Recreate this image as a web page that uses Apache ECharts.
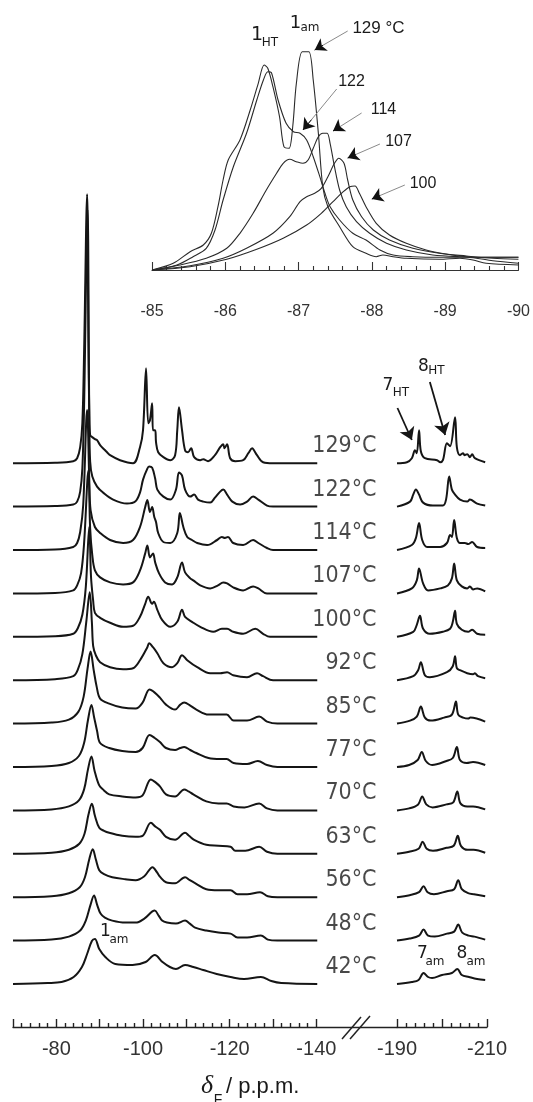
<!DOCTYPE html>
<html>
<head>
<meta charset="utf-8">
<script src="https://cdn.jsdelivr.net/npm/echarts@6/dist/echarts.min.js"></script>
<style>
  html, body { margin: 0; padding: 0; background: #fff; }
  #chart { width: 533px; height: 1102px; }
</style>
</head>
<body>
<div id="chart"></div>
<script>
// temperatures, top row first
const temps = ['129', '122', '114', '107', '100', '92', '85', '77', '70', '63', '56', '48', '42']

// left block of each spectrum, [ppm, intensity above its own baseline]
const left129 = [[-70,0],[-79.7,0.5],[-83.9,2],[-84.8,5],[-85.5,16],[-86,40],[-86.4,110],[-87.1,269],[-87.4,120],[-87.6,50],[-87.8,28],[-88.3,26],[-88.9,24],[-89.4,23],[-90.1,18],[-91,14],[-91.7,11],[-92.4,8],[-94.7,3],[-97.7,0],[-99.3,16],[-100,33],[-100.7,95],[-101.2,40],[-101.6,43],[-102.1,60],[-102.3,33],[-102.8,33],[-103,21],[-103.5,11],[-104.7,6],[-106.3,3],[-107.4,8],[-107.9,33],[-108.3,56],[-109,33],[-109.7,13],[-110.4,11],[-111.1,15],[-111.8,6],[-113.2,3],[-113.9,4],[-115,2],[-116.6,8],[-117.8,16],[-118.5,19],[-118.8,15],[-119.4,19],[-120.1,5],[-121.3,2],[-123.1,3],[-124.3,10],[-125.2,15],[-125.6,13],[-126.3,8],[-127.7,1],[-130,0],[-140.2,0]]
const left122 = [[-70,0],[-79.7,0.5],[-83.9,2],[-84.8,5],[-85.5,15],[-86,38],[-86.4,100],[-87.2,297],[-87.6,90],[-87.8,45],[-88.3,30],[-89.4,20],[-90.8,14],[-93.1,7],[-96.3,3],[-98.2,5],[-99.3,14],[-100,27],[-101,38],[-101.4,40],[-102.1,39],[-102.8,28],[-103.3,17],[-104.7,10],[-106.3,7],[-107.6,17],[-108.3,34],[-109,31],[-109.7,17],[-110.9,10],[-111.8,12],[-112.7,7],[-113.9,5],[-115.5,4],[-116.6,9],[-117.8,15],[-118.5,17],[-119.4,12],[-120.6,5],[-122.4,2],[-124,5],[-125.4,10],[-126.6,7],[-128.6,1],[-130,0],[-140.2,0]]
const left114 = [[-70,0],[-79.7,0.5],[-83.9,3],[-84.8,7],[-85.5,18],[-86.2,45],[-87.1,140],[-87.6,70],[-87.9,40],[-88.9,23],[-90.1,17],[-92.4,10],[-95.4,7],[-97.7,10],[-99.3,23],[-100.5,43],[-101,50],[-101.6,38],[-102.1,43],[-102.6,33],[-103,28],[-103.5,17],[-104.7,8],[-106.3,7],[-107.9,17],[-108.5,37],[-109.3,23],[-110.2,13],[-111.3,10],[-112.5,7],[-114.8,5],[-117.1,10],[-118.2,13],[-118.9,12],[-119.6,13],[-120.8,7],[-123.1,5],[-125.4,10],[-126.6,7],[-128.6,2],[-130,0],[-140.2,0]]
const left107 = [[-70,0],[-79.7,0.5],[-83.9,3],[-84.8,8],[-85.7,20],[-86.4,50],[-87.4,123],[-87.8,65],[-88.3,38],[-88.9,23],[-90.1,16],[-92.4,11],[-95.4,9],[-97.7,11],[-99.3,23],[-100.5,40],[-101,48],[-101.6,36],[-102.3,40],[-102.8,31],[-103.7,20],[-105.1,11],[-106.7,9],[-107.9,16],[-109,31],[-109.7,21],[-110.9,15],[-111.6,13],[-113.2,8],[-115.5,5],[-117.3,8],[-118.5,11],[-119.4,10],[-120.8,6],[-123.1,3],[-125.4,7],[-126.6,5],[-128.6,0],[-140.2,0]]
const left100 = [[-70,0],[-79.7,0.5],[-83.9,3],[-85,9],[-86,22],[-86.8,50],[-87.6,110],[-88,60],[-88.5,36],[-88.9,24],[-90.1,19],[-92.4,14],[-95.4,10],[-97.7,11],[-99.3,20],[-100.5,33],[-101.2,40],[-102.1,33],[-102.5,35],[-103.3,27],[-104.4,17],[-106.3,10],[-107.9,15],[-109,27],[-109.7,20],[-111.3,15],[-113.2,10],[-116.2,5],[-118.2,8],[-119.4,8],[-120.8,5],[-123.1,3],[-125.9,8],[-127.7,3],[-129.3,0],[-140.2,0]]
const left92 = [[-70,0],[-79.7,1],[-83.9,4],[-85,11],[-86,26],[-86.9,58],[-87.7,88],[-88.2,58],[-88.5,34],[-89.1,25],[-90.1,18],[-92.4,13],[-95.4,11],[-97.7,12],[-99.3,20],[-101,33],[-101.4,37],[-102.3,33],[-103.3,27],[-104.7,17],[-106.7,13],[-107.9,17],[-109,25],[-110.2,20],[-112.5,13],[-115.5,7],[-117.8,7],[-119.4,8],[-120.8,5],[-124,3],[-126.3,7],[-127.7,4],[-130,0],[-140.2,0]]
const left85 = [[-70,0],[-78.9,1],[-82.9,4],[-85.1,12],[-86.3,27],[-87.2,55],[-87.9,72],[-88.6,54],[-89.3,37],[-90.1,25],[-92.2,20],[-95.2,16],[-98.3,15],[-99.9,21],[-101.5,34],[-102.7,31],[-103.9,26],[-105.3,19],[-107.4,14],[-108.6,19],[-109.5,21],[-110.9,18],[-112.3,14],[-115.1,9],[-117.9,9],[-119.3,9],[-120.9,3],[-124,3],[-126.8,7],[-128.6,2],[-131,0],[-140.2,0]]
const left77 = [[-70,0],[-78.9,1],[-82.9,4],[-85.2,11],[-86.4,24],[-87.3,47],[-88.1,62],[-88.7,50],[-89.4,36],[-90.1,24],[-92.2,19],[-95.2,16],[-98.3,15],[-99.9,19],[-101.5,32],[-102.7,29],[-103.9,25],[-105.3,19],[-107.4,17],[-108.6,19],[-109.5,20],[-110.9,17],[-112.3,14],[-115.1,9],[-117.9,8],[-119.3,8],[-120.9,4],[-124,3],[-126.5,6],[-128.6,2],[-131,0],[-140.2,0]]
const left70 = [[-70,0],[-78.9,1],[-82.9,4],[-85.2,10],[-86.4,21],[-87.3,41],[-88.1,54],[-88.8,40],[-89.9,25],[-91,20],[-92.2,16],[-95.2,14],[-98.3,13],[-99.9,15],[-101.8,31],[-102.9,28],[-103.9,24],[-105.3,16],[-107.4,14],[-109.5,21],[-110.5,19],[-111.6,16],[-114.6,9],[-117.4,7],[-119.3,7],[-120.9,4],[-123.4,3],[-126.8,7],[-128.6,2],[-131,0],[-140.2,0]]
const left63 = [[-70,0],[-78.9,1],[-82.9,4],[-85.3,10],[-86.5,20],[-87.4,39],[-88.2,50],[-88.9,38],[-89.9,26],[-91,23],[-92.2,21],[-95.2,18],[-98.3,17],[-99.9,18],[-101.8,31],[-102.9,27],[-103.9,24],[-105.3,17],[-107.4,14],[-109.7,21],[-110.6,18],[-111.8,14],[-114.6,9],[-117.4,8],[-120.2,7],[-121.3,3],[-123.6,3],[-126.8,7],[-128.6,2],[-131,0],[-140.2,0]]
const left56 = [[-70,0],[-78.9,1],[-82.9,4],[-85.4,10],[-86.6,20],[-87.6,38],[-88.4,48],[-89.1,38],[-89.9,27],[-91,23],[-92.9,20],[-95.9,18],[-98.3,17],[-100.3,21],[-102.2,30],[-103.2,25],[-104,20],[-105.3,15],[-107.4,14],[-109.7,20],[-110.8,17],[-112,14],[-114.6,8],[-117.4,7],[-120.2,7],[-121.8,3],[-124,3],[-127,5],[-128.8,1],[-131,0],[-140.2,0]]
const left48 = [[-70,0],[-78.9,1],[-82.9,4],[-85.5,10],[-86.8,20],[-87.9,36],[-88.7,45],[-89.4,36],[-90.2,27],[-91.2,23],[-92.9,20],[-95.9,18],[-98.3,18],[-100.3,22],[-102.7,30],[-103.6,25],[-104.4,20],[-105.5,18],[-107.6,17],[-109.7,20],[-110.8,17],[-112,13],[-114.6,10],[-117.4,8],[-120.2,7],[-121.8,3],[-124,3],[-127.2,5],[-128.8,1],[-131,0],[-140.2,0]]
const left42 = [[-70,0],[-78,1],[-81.2,2],[-84,7],[-85.9,17],[-87.1,30],[-88.2,43],[-88.9,45],[-89.9,35],[-91.3,27],[-93.6,20],[-97.6,19],[-100.6,22],[-102.7,29],[-104.5,22],[-106.2,17],[-107.6,15],[-109.7,19],[-111.6,17],[-113.9,14],[-117,10],[-120.2,7],[-123.3,5],[-127.2,7],[-129.6,3],[-131.9,1],[-140.2,0]]

// right block (after the axis break)
const right129 = [[-190,0],[-192.2,1],[-193.3,5],[-194,13],[-194.4,10],[-194.9,33],[-195.3,12],[-196.2,5],[-198.9,3],[-199.6,1],[-200.2,3],[-201.1,20],[-201.8,17],[-202.9,46],[-203.3,16],[-204,8],[-204.7,10],[-205,8],[-205.6,9],[-206.2,6],[-206.7,9],[-207.3,5],[-209.6,1]]
const right122 = [[-190,0],[-192.9,5],[-193.6,12],[-194.2,17],[-194.9,12],[-195.8,4],[-198,1],[-200.2,1],[-200.9,7],[-201.6,30],[-202.2,17],[-202.9,12],[-204,7],[-205.6,5],[-206.2,7],[-207.8,3],[-209.6,1]]
const right114 = [[-190,0],[-193.3,5],[-194.2,12],[-194.9,27],[-195.6,10],[-196.7,3],[-199.6,3],[-201.1,7],[-201.8,15],[-202.2,13],[-202.7,30],[-203.3,12],[-204,7],[-205.1,7],[-205.8,6],[-206.7,8],[-207.8,3],[-209.6,2]]
const right107 = [[-190,0],[-193.3,5],[-194.4,13],[-194.9,25],[-195.8,10],[-196.9,3],[-199.6,5],[-201.3,8],[-202.2,15],[-202.7,30],[-203.3,13],[-204.4,7],[-205.6,5],[-206.2,7],[-206.9,4],[-207.8,5],[-209.6,2]]
const right100 = [[-190,0],[-193.6,5],[-194.4,12],[-195.1,21],[-195.8,8],[-197.3,3],[-200.2,5],[-201.8,8],[-202.4,15],[-202.9,26],[-203.3,13],[-204.4,7],[-205.8,5],[-206.7,7],[-207.8,3],[-209.6,2]]
const right92 = [[-190,0],[-193.6,4],[-194.7,10],[-195.3,18],[-196.2,5],[-197.3,3],[-201.1,8],[-202.4,14],[-202.9,24],[-203.3,12],[-204,10],[-205.6,7],[-206.9,6],[-207.3,7],[-208,4],[-209.6,2]]
const right85 = [[-190,0],[-192.9,3],[-194.4,7],[-195.3,17],[-196.2,6],[-197.5,3],[-200.5,6],[-202.2,9],[-203.1,22],[-203.6,9],[-204.7,6],[-205.8,5],[-206.3,6],[-209.6,2]]
const right77 = [[-190,0],[-192.7,2],[-194.6,7],[-195.5,15],[-196.4,6],[-197.8,2],[-201,6],[-202.4,9],[-203.3,20],[-204,7],[-205.5,4],[-206.9,5],[-209.6,2]]
const right70 = [[-190,0],[-192.7,2],[-194.7,6],[-195.6,14],[-196.5,6],[-197.9,3],[-201,6],[-202.5,8],[-203.4,19],[-204.1,7],[-205.6,4],[-206.9,4],[-209.6,1]]
const right63 = [[-190,0],[-192.7,2],[-194.8,5],[-195.7,12],[-196.6,5],[-198,3],[-201,6],[-202.6,8],[-203.5,18],[-204.2,8],[-205.7,4],[-207,4],[-209.6,1]]
const right56 = [[-190,0],[-192.8,2],[-194.9,5],[-195.9,11],[-196.8,5],[-198.2,3],[-201.1,6],[-202.7,8],[-203.6,17],[-204.4,8],[-205.8,4],[-207.1,3],[-209.6,1]]
const right48 = [[-190,0],[-192.8,2],[-194.9,5],[-195.9,11],[-196.9,5],[-198.4,4],[-201.1,7],[-202.7,9],[-203.6,16],[-204.5,8],[-205.9,5],[-207.2,4],[-209.6,1]]
const right42 = [[-190,0],[-193.3,2],[-194.8,4],[-195.9,11],[-196.9,7],[-197.8,6],[-200,9],[-202.2,11],[-203.4,15],[-204.4,9],[-206,7],[-207.8,5],[-209.6,4]]

// inset, expanded view of peak 1
const inset129 = [[-85,0],[-85.29,6.7],[-85.52,18.3],[-85.7,25],[-85.81,36.7],[-85.9,63.3],[-85.97,90],[-86.04,110],[-86.2,130],[-86.34,160],[-86.45,186.7],[-86.53,205],[-86.58,201.7],[-86.65,183.3],[-86.74,153.3],[-86.8,123.3],[-86.87,121.7],[-86.92,143.3],[-86.97,186.7],[-87.05,218.3],[-87.14,218.3],[-87.2,190],[-87.27,136.7],[-87.33,83.3],[-87.4,63.3],[-87.56,43.3],[-87.74,23.3],[-87.92,16.7],[-88.06,13.3],[-88.15,15],[-88.29,13.3],[-88.47,11.7],[-88.92,10.7],[-89.2,11.7],[-89.38,10],[-89.56,6.7],[-90,5]]
const inset122 = [[-85,0],[-85.34,5],[-85.56,13.3],[-85.74,21.7],[-85.86,40],[-85.97,70],[-86.11,103.3],[-86.29,136.7],[-86.43,170],[-86.52,190],[-86.58,198.3],[-86.63,197.3],[-86.72,170],[-86.83,146.7],[-86.93,138.3],[-87.02,136.7],[-87.11,130],[-87.2,113.3],[-87.29,93.3],[-87.36,76.7],[-87.43,63.3],[-87.56,50],[-87.74,36.7],[-87.92,30],[-88.11,20],[-88.29,15],[-88.56,13.3],[-88.92,12.7],[-89.29,12.7],[-89.65,9.3],[-90,6.7]]
const inset114 = [[-85,0],[-85.38,5],[-85.74,11.7],[-86.02,21.7],[-86.2,36.7],[-86.38,56.7],[-86.56,80],[-86.7,96.7],[-86.79,106.7],[-86.88,110.7],[-86.97,108.3],[-87.06,106.7],[-87.13,110],[-87.2,121.7],[-87.27,133.3],[-87.33,136.7],[-87.39,136.7],[-87.43,126.7],[-87.49,103.3],[-87.56,80],[-87.65,63.3],[-87.79,48.3],[-87.97,36.7],[-88.2,26.7],[-88.47,20],[-88.83,15],[-89.2,13.3],[-89.6,12.7],[-90,12.7]]
const inset107 = [[-85,0],[-85.52,4.3],[-85.97,11.7],[-86.29,21.7],[-86.65,36.7],[-86.88,53.3],[-87.02,68.3],[-87.11,73.3],[-87.22,76.7],[-87.31,81.7],[-87.4,93.3],[-87.49,106.7],[-87.55,111.7],[-87.62,106.7],[-87.67,90],[-87.74,70],[-87.86,53.3],[-88.02,40],[-88.24,30],[-88.56,21.7],[-88.92,16.7],[-89.29,14],[-89.65,11.7],[-90,10.7]]
const inset100 = [[-85,0],[-85.52,3.3],[-86.02,10.7],[-86.43,20.7],[-86.79,31.7],[-87.11,45],[-87.31,56.7],[-87.47,68.3],[-87.61,78.3],[-87.7,83.3],[-87.77,84],[-87.83,76.7],[-87.92,63.3],[-88.06,46.7],[-88.24,35],[-88.47,26.7],[-88.74,20],[-89.01,16],[-89.29,13.3],[-89.56,12.7],[-90,12.7]]

// tick labels
const mainTicks = [-70, -80, -90, -100, -110, -120, -130, -140]
const mainTickLabels = [-80, -100, -120, -140]
const rightTickLabels = [-190, -210]

const leftTraces = [left129, left122, left114, left107, left100, left92, left85, left77, left70, left63, left56, left48, left42]
const rightTraces = [right129, right122, right114, right107, right100, right92, right85, right77, right70, right63, right56, right48, right42]
const insetTraces = [inset129, inset122, inset114, inset107, inset100]

// layout
const rowGap = 43.4
const firstRow = 43
const rowBase = i => firstRow + (temps.length - 1 - i) * rowGap
const labelX = -154.0

const minorTicks = []
for (let v = -72; v >= -138; v -= 2) {
  if (v % 10 !== 0) minorTicks.push(v)
}

const ink = '#151515'
const sans = "'Liberation Sans', Arial, sans-serif"
const verd = "'DejaVu Sans Condensed', 'DejaVu Sans', sans-serif"

const chart = echarts.init(document.getElementById('chart'))

const series = []

leftTraces.forEach((tr, i) => {
  series.push({
    type: 'line',
    xAxisIndex: 0,
    yAxisIndex: 0,
    data: tr.map(p => [p[0], p[1] + rowBase(i)]),
    showSymbol: false,
    symbol: 'none',
    smooth: 0.35,
    silent: true,
    lineStyle: { color: ink, width: 2 }
  })
})

rightTraces.forEach((tr, i) => {
  const s = {
    type: 'line',
    xAxisIndex: 2,
    yAxisIndex: 1,
    data: tr.map(p => [p[0], p[1] + rowBase(i)]),
    showSymbol: false,
    symbol: 'none',
    smooth: 0.35,
    clip: false,
    silent: true,
    lineStyle: { color: ink, width: 2 }
  }
  if (i === 0) {
    // arrows for 7HT and 8HT
    s.markLine = {
      silent: true,
      symbol: ['none', 'arrow'],
      symbolSize: 12,
      label: { show: false },
      lineStyle: { color: ink, width: 1.8, type: 'solid' },
      data: [
        [{ coord: [-190.1, 619] }, { coord: [-193.3, 587] }],
        [{ coord: [-197.3, 645] }, { coord: [-200.7, 592] }]
      ]
    }
  }
  series.push(s)
})

series.push({
  type: 'scatter',
  xAxisIndex: 0,
  yAxisIndex: 0,
  symbolSize: 1,
  itemStyle: { color: 'rgba(0,0,0,0)' },
  silent: true,
  data: temps.map((t, i) => [labelX, rowBase(i) + 17]),
  label: {
    show: true,
    position: 'left',
    distance: 0,
    formatter: p => temps[p.dataIndex] + '°C',
    fontSize: 23,
    fontFamily: verd,
    color: '#1a1a1a'
  }
})

// inset arrows: [label end, tip]
const insetArrows = [
  [[-87.67, 239], [-87.22, 220]],
  [[-87.52, 181], [-87.06, 140]],
  [[-87.86, 157], [-87.47, 139]],
  [[-88.11, 126], [-87.67, 112]],
  [[-88.45, 85], [-88.0, 71]]
]
const near = (a, b) => [b[0] + (a[0] - b[0]) * 0.25, b[1] + (a[1] - b[1]) * 0.25]

insetTraces.forEach((tr, i) => {
  const s = {
    type: 'line',
    xAxisIndex: 3,
    yAxisIndex: 2,
    data: tr,
    showSymbol: false,
    symbol: 'none',
    smooth: 0.3,
    silent: true,
    lineStyle: { color: '#2a2a2a', width: 1.1 }
  }
  if (i === 0) {
    s.markLine = {
      silent: true,
      label: { show: false },
      data: insetArrows.map(a => [
        { coord: a[0], symbol: 'none', lineStyle: { color: '#8a8a8a', width: 1, type: 'solid' } },
        { coord: a[1], symbol: 'none' }
      ]).concat(insetArrows.map(a => [
        { coord: near(a[0], a[1]), symbol: 'none', lineStyle: { color: '#111', width: 1, type: 'solid' } },
        { coord: a[1], symbol: 'arrow', symbolSize: 11 }
      ]))
    }
  }
  series.push(s)
})

const txt = (text, x, y, size, extra) => ({
  type: 'text',
  x: x,
  y: y,
  silent: true,
  style: Object.assign({
    text: text,
    fill: '#1a1a1a',
    fontSize: size,
    fontFamily: "'DejaVu Sans', sans-serif",
    align: 'center',
    verticalAlign: 'middle',
    textAlign: 'center',
    textVerticalAlign: 'middle'
  }, extra || {})
})

const graphics = [
  // break mark on the main axis
  { type: 'line', silent: true, shape: { x1: 342, y1: 1039, x2: 361, y2: 1017 }, style: { stroke: '#222', lineWidth: 1.5 } },
  { type: 'line', silent: true, shape: { x1: 350, y1: 1039, x2: 370, y2: 1016 }, style: { stroke: '#222', lineWidth: 1.5 } },
  // axis title
  txt('δ', 207, 1086, 26, { fontFamily: "'Liberation Serif', serif", fontStyle: 'italic' }),
  txt('F', 218, 1100, 14, { fontFamily: sans }),
  txt('/ p.p.m.', 226, 1087, 22, { fontFamily: sans, align: 'left', textAlign: 'left' }),
  // peak labels, main plot
  txt('7', 388, 386, 17),
  txt('HT', 401, 392.5, 12),
  txt('8', 423.5, 367, 17),
  txt('HT', 436.5, 371, 12),
  txt('1', 105.5, 931.5, 17),
  txt('am', 119, 940, 12),
  txt('7', 422.4, 954, 17),
  txt('am', 435, 961.5, 12),
  txt('8', 461.8, 954, 17),
  txt('am', 476, 961.5, 12),
  // inset labels
  txt('1', 257, 35, 19),
  txt('HT', 270, 42.5, 12),
  txt('1', 295.5, 23.5, 18),
  txt('am', 310, 28, 12),
  txt('129 °C', 378.5, 28.5, 17, { fontFamily: sans }),
  txt('122', 351.5, 81.5, 16, { fontFamily: sans }),
  txt('114', 383.5, 110, 16, { fontFamily: sans }),
  txt('107', 398.5, 141.5, 16, { fontFamily: sans }),
  txt('100', 423, 183.5, 16, { fontFamily: sans })
]

const axisInk = { color: '#222', width: 1.4 }

const option = {
  animation: false,
  backgroundColor: '#fff',
  grid: [
    { left: 13, right: 136, top: 150, bottom: 75 },
    { left: 397, right: 46, top: 150, bottom: 75 },
    { left: 152, right: 14, top: 10, bottom: 807 }
  ],
  xAxis: [
    {
      gridIndex: 0, type: 'value', min: -158.6, max: -70, inverse: true, position: 'bottom',
      axisLine: { show: true, lineStyle: axisInk },
      axisTick: { show: true, inside: true, length: 8, customValues: mainTicks, lineStyle: axisInk },
      axisLabel: { customValues: mainTickLabels, fontSize: 20, fontFamily: sans, color: '#333', margin: 12 },
      splitLine: { show: false }
    },
    {
      gridIndex: 0, type: 'value', min: -158.6, max: -70, inverse: true, position: 'bottom',
      axisLine: { show: false },
      axisTick: { show: true, inside: true, length: 4, customValues: minorTicks, lineStyle: axisInk },
      axisLabel: { show: false },
      splitLine: { show: false }
    },
    {
      gridIndex: 1, type: 'value', min: -210, max: -190, interval: 10, inverse: true, position: 'bottom',
      axisLine: { show: true, lineStyle: axisInk },
      axisTick: { show: true, inside: true, length: 8, lineStyle: axisInk },
      minorTick: { show: true, splitNumber: 5, length: 4, lineStyle: axisInk },
      axisLabel: { customValues: rightTickLabels, fontSize: 20, fontFamily: sans, color: '#333', margin: 12 },
      splitLine: { show: false }
    },
    {
      gridIndex: 2, type: 'value', min: -90, max: -85, interval: 1, inverse: true, position: 'bottom',
      axisLine: { show: true, lineStyle: { color: '#333', width: 1.2 } },
      axisTick: { show: true, inside: true, length: 8, lineStyle: { color: '#333', width: 1.1 } },
      minorTick: { show: true, splitNumber: 5, length: 4, lineStyle: { color: '#333', width: 1.1 } },
      axisLabel: { fontSize: 16, fontFamily: sans, color: '#333', margin: 9 },
      splitLine: { show: false }
    }
  ],
  yAxis: [
    { gridIndex: 0, type: 'value', min: 0, max: 877, show: false },
    { gridIndex: 1, type: 'value', min: 0, max: 877, show: false },
    { gridIndex: 2, type: 'value', min: -25, max: 260, show: false }
  ],
  series: series,
  graphic: graphics
}

chart.setOption(option)
</script>
</body>
</html>
